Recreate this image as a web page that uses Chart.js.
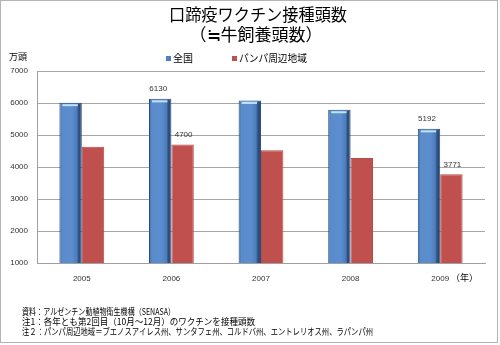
<!DOCTYPE html>
<html>
<head>
<meta charset="utf-8">
<script src="https://cdn.jsdelivr.net/npm/chart.js@4"></script>
<style>
  body { margin: 0; background: #fff; }
  canvas { display: block; }
</style>
</head>
<body>
<canvas id="grafico" width="500" height="345"></canvas>
<script>
const anios = ['2005', '2006', '2007', '2008', '2009'];
const zenkoku = [6010, 6130, 6080, 5790, 5192];
const pampa = [4630, 4700, 4525, 4285, 3771];
const etiquetasVisibles = [1, 4];
const yTicks = [1000, 2000, 3000, 4000, 5000, 6000, 7000];
const titulo = ['口蹄疫ワクチン接種頭数', '（≒牛飼養頭数）'];
const notas = [
  '資料：アルゼンチン動植物衛生機構（SENASA）',
  '注1：各年とも第2回目（10月～12月）のワクチンを接種頭数',
  '注２：パンパ周辺地域＝ブエノスアイレス州、サンタフェ州、コルドバ州、エントレリオス州、ラパンパ州'
];
const anchosNotas = [153, 233, 351];

const jp = '"Noto Sans CJK JP", sans-serif';
const num = '"Liberation Sans", Arial, sans-serif';

function azulGradiente(c) {
  const chart = c.chart;
  const x = chart.scales.x;
  if (!x || !chart.chartArea || x.width === undefined) return '#4F81BD';
  const centro = x.getPixelForValue(c.dataIndex);
  const ancho = x.width / anios.length * 0.5 / 2;
  const g = chart.ctx.createLinearGradient(centro - ancho, 0, centro, 0);
  g.addColorStop(0, '#3E6BA4');
  g.addColorStop(0.12, '#5A8BCB');
  g.addColorStop(0.55, '#5C8ECF');
  g.addColorStop(0.78, '#4D7DBA');
  g.addColorStop(0.86, '#2E5080');
  g.addColorStop(1, '#2A4A74');
  return g;
}

const extras = {
  id: 'extras',
  beforeDraw(chart) {
    const ctx = chart.ctx;
    ctx.save();
    ctx.fillStyle = '#fff';
    ctx.fillRect(0, 0, chart.width, chart.height);
    ctx.strokeStyle = '#B4B4B4';
    ctx.lineWidth = 1;
    ctx.strokeRect(0.5, 0.5, 497, 342);
    ctx.restore();
  },
  afterDatasetsDraw(chart) {
    const ctx = chart.ctx;
    ctx.save();
    // brillo superior de las barras azules
    chart.getDatasetMeta(0).data.forEach(bar => {
      const l = bar.x - bar.width / 2 + 3;
      const r = bar.x + bar.width / 2 - 4;
      ctx.strokeStyle = '#BFE3F8';
      ctx.lineWidth = 2;
      ctx.beginPath();
      ctx.moveTo(l, bar.y + 2.5);
      ctx.lineTo(r, bar.y + 2.5);
      ctx.stroke();
    });
    // valores
    ctx.font = '8px ' + num;
    ctx.fillStyle = '#333';
    ctx.textAlign = 'center';
    ctx.textBaseline = 'middle';
    [0, 1].forEach(ds => {
      const meta = chart.getDatasetMeta(ds);
      const valores = ds === 0 ? zenkoku : pampa;
      etiquetasVisibles.forEach(i => {
        const bar = meta.data[i];
        const dx = ds === 0 ? -2 : 1;
        ctx.fillText(String(valores[i]), bar.x + dx, bar.y - 10);
      });
    });
    ctx.restore();
  },
  afterDraw(chart) {
    const ctx = chart.ctx;
    ctx.save();
    ctx.textBaseline = 'middle';
    ctx.fillStyle = '#000';
    // titulo
    ctx.textAlign = 'center';
    ctx.font = '17px ' + jp;
    ctx.fillText(titulo[0], 258, 15, 178);
    ctx.fillText(titulo[1], 256, 35);
    // leyenda
    ctx.textAlign = 'left';
    ctx.font = '10px ' + jp;
    ctx.fillStyle = '#4F81BD';
    ctx.fillRect(166, 56, 5, 5);
    ctx.fillStyle = '#C0504D';
    ctx.fillRect(232, 56, 5, 5);
    ctx.fillStyle = '#000';
    ctx.fillText('全国', 173, 58.5);
    ctx.fillText('パンパ周辺地域', 239, 58.5, 68);
    // unidad
    ctx.font = '9px ' + jp;
    ctx.fillText('万頭', 9, 57);
    ctx.fillText('（年）', 451, 278);
    // notas
    notas.forEach((t, i) => {
      ctx.fillText(t, 22, 312 + i * 10, anchosNotas[i]);
    });
    ctx.restore();
  }
};

new Chart(document.getElementById('grafico'), {
  type: 'bar',
  data: {
    labels: anios,
    datasets: [{
      label: '全国',
      data: zenkoku,
      backgroundColor: azulGradiente,
      borderColor: '#2C4E7C',
      borderWidth: 1,
      borderSkipped: false,
      categoryPercentage: 0.5,
      barPercentage: 1
    }, {
      label: 'パンパ周辺地域',
      data: pampa,
      backgroundColor: '#C0504D',
      borderColor: '#B84A47',
      borderWidth: 1,
      borderSkipped: 'bottom',
      categoryPercentage: 0.5,
      barPercentage: 1
    }]
  },
  plugins: [extras],
  options: {
    responsive: false,
    animation: false,
    layout: { padding: { left: 0, right: 15, top: 71, bottom: 57 } },
    plugins: {
      legend: { display: false },
      tooltip: { enabled: false },
      title: { display: false }
    },
    scales: {
      x: {
        grid: { display: false, drawTicks: false },
        border: { display: true, color: '#A0A0A0' },
        ticks: { color: '#333', font: { family: num, size: 8 }, padding: 11 },
        afterFit(scale) { scale.height = 25; }
      },
      y: {
        min: 1000,
        max: 7000,
        afterBuildTicks(scale) { scale.ticks = yTicks.map(v => ({ value: v })); },
        grid: { color: '#A6A6A6', drawTicks: false },
        border: { display: true, color: '#A0A0A0' },
        ticks: {
          color: '#333',
          font: { family: num, size: 8 },
          padding: 9,
          callback: v => String(v)
        },
        afterFit(scale) { scale.width = 37; }
      }
    }
  }
});
</script>
</body>
</html>
